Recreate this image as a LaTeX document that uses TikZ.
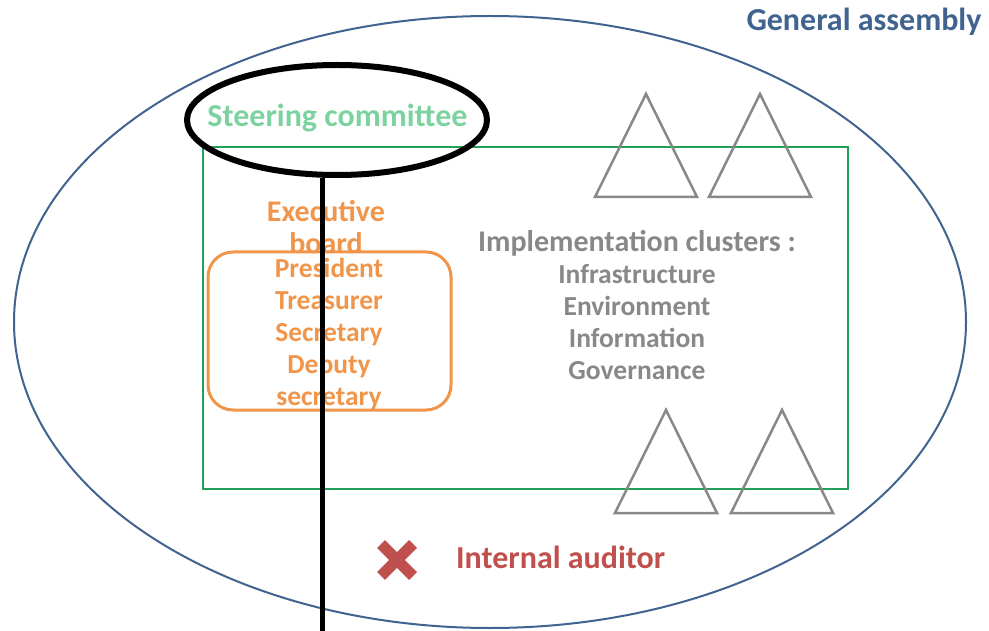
\documentclass[tikz,border=0pt]{standalone}
\usepackage{fontspec}
\setmainfont{Carlito}
\usetikzlibrary{shapes.geometric}
\definecolor{assemblyblue}{RGB}{65, 99, 143}
\definecolor{clustergreen}{RGB}{34, 160, 90}
\definecolor{steergreen}{RGB}{125, 211, 160}
\definecolor{boardorange}{RGB}{240, 149, 74}
\definecolor{clustergray}{RGB}{136, 136, 136}
\definecolor{auditred}{RGB}{192, 80, 77}
\tikzset{lbl/.style={font=\fontsize{27.5}{32}\selectfont\bfseries, inner sep=0pt, align=center}}

\begin{document}
\begin{tikzpicture}[x=1pt, y=-1pt]
\useasboundingbox (0,0) rectangle (989,631);
\draw[assemblyblue, line width=2pt] (490,322) ellipse [x radius=476, y radius=306];
\node[lbl, assemblyblue, font=\fontsize{32}{32}\selectfont\bfseries] (assembly) at (864,22) {General assembly};
\draw[clustergreen, line width=2.5pt] (203,147) rectangle (848,489);
% triangles for the clusters
\foreach \tx/\ty in {646/94, 760/94, 666/410, 782/410}
  \draw[clustergray, line width=2.5pt] (\tx,\ty) -- (\tx+51,\ty+103) -- (\tx-51,\ty+103) -- cycle;
\node[lbl, clustergray, font=\fontsize{30}{32}\selectfont\bfseries] (clusters) at (637,243) {Implementation clusters :};
\node[lbl, clustergray, font=\fontsize{27.5}{32}\selectfont\bfseries, anchor=north] (themes) at (637,264)
  {Infrastructure\\Environment\\Information\\Governance};
\node[draw=boardorange, line width=3pt, rounded corners=25pt, minimum width=243pt, minimum height=158pt] (board) at (329.5,331) {};
\node[lbl, boardorange, font=\fontsize{30}{32}\selectfont\bfseries] (title) at (326,227) {Executive\\board};
\node[lbl, boardorange, anchor=north] (members) at (329,258) {President\\Treasurer\\Secretary\\Deputy\\secretary};
\node[ellipse, draw=black, line width=6pt, minimum width=300pt, minimum height=110pt, inner sep=0pt] (steer) at (337,120) {};
\node[lbl, steergreen, font=\fontsize{32}{32}\selectfont\bfseries] (steertext) at (337.5,118) {Steering committee};
\coordinate (tail) at (322,631);
\draw[line width=5pt] (steer.south -| tail) -- (tail);
% internal auditor
\draw[auditred, line width=11pt] (381,544) -- (413,576) (413,544) -- (381,576);
\node[lbl, auditred, font=\fontsize{32}{32}\selectfont\bfseries, anchor=west] (auditor) at (456,557) {Internal auditor};
\end{tikzpicture}
\end{document}
